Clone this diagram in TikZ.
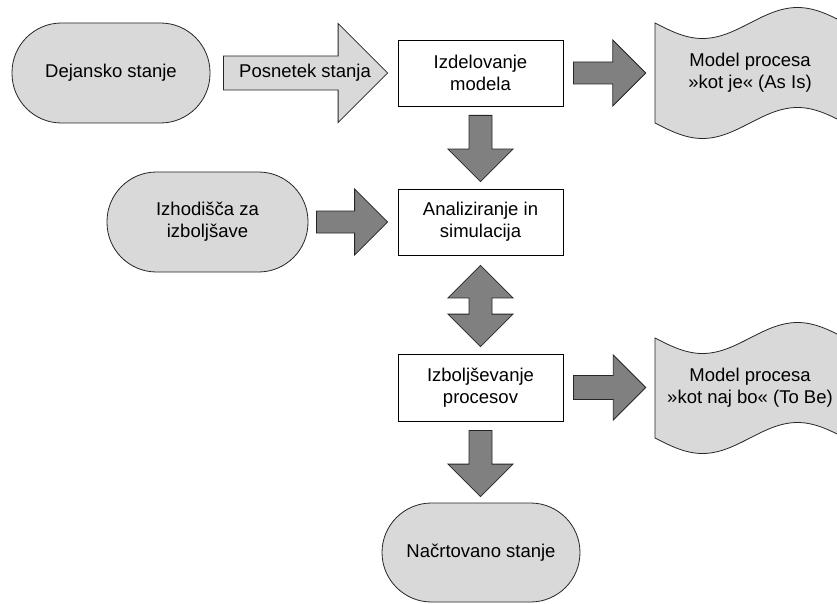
\documentclass[tikz,border=0pt]{standalone}
\usepackage{fontspec}
\setmainfont{Liberation Sans}
\usetikzlibrary{calc,backgrounds}

\definecolor{lightfill}{HTML}{D9D9D9}
\definecolor{darkfill}{HTML}{808080}
\definecolor{outline}{HTML}{262626}

% horizontal block arrow: style, start, tip, shaft half width, head half width (= head length)
\newcommand{\blockright}[5]{%
  \filldraw[#1] let \p1=#2, \p2=#3 in
    (\x1,\y1+#4) -- (\x2-#5,\y1+#4) -- (\x2-#5,\y1+#5) -- (\x2,\y1)
    -- (\x2-#5,\y1-#5) -- (\x2-#5,\y1-#4) -- (\x1,\y1-#4) -- cycle;}
% downward block arrow
\newcommand{\blockdown}[5]{%
  \filldraw[#1] let \p1=#2, \p2=#3 in
    (\x1-#4,\y1) -- (\x1-#4,\y2+#5) -- (\x1-#5,\y2+#5) -- (\x1,\y2)
    -- (\x1+#5,\y2+#5) -- (\x1+#4,\y2+#5) -- (\x1+#4,\y1) -- cycle;}
% two-headed vertical block arrow: top tip, bottom tip
\newcommand{\blockupdown}[5]{%
  \filldraw[#1] let \p1=#2, \p2=#3 in
    (\x1,\y1) -- (\x1+#5,\y1-#5) -- (\x1+#4,\y1-#5) -- (\x1+#4,\y2+#5)
    -- (\x1+#5,\y2+#5) -- (\x1,\y2) -- (\x1-#5,\y2+#5) -- (\x1-#4,\y2+#5)
    -- (\x1-#4,\y1-#5) -- (\x1-#5,\y1-#5) -- cycle;}

\tikzset{
  txt/.style={font=\fontsize{18.5}{22}\selectfont, align=center, text=black},
  terminal/.style={txt, draw=outline, line width=0.8pt, fill=lightfill,
    rounded corners=49.5pt, minimum height=100pt, inner sep=0pt},
  process/.style={txt, draw=black, line width=0.8pt, fill=white,
    minimum width=165pt, minimum height=66pt, inner sep=0pt},
  tapelabel/.style={txt, minimum width=190pt, minimum height=100pt, inner sep=0pt},
  tapeshape/.style={draw=outline, line width=0.8pt, fill=lightfill},
  bigarrow/.style={draw=outline, line width=0.8pt, fill=darkfill},
  lightarrow/.style={draw=outline, line width=0.8pt, fill=lightfill},
}

\begin{document}
\begin{tikzpicture}[x=1pt, y=-1pt]
  \useasboundingbox (0,0) rectangle (837,604);
  \fill[white] (0,0) rectangle (837,604);

  % punched-tape documents
  \filldraw[tapeshape] (655,23) sin (702.5,38.5) cos (750,23) sin (797.5,7.5) cos (845,23)
    -- (845,123) sin (797.5,107.5) cos (750,123) sin (702.5,138.5) cos (655,123) -- cycle;
  \filldraw[tapeshape] (655,338) sin (702.5,353.5) cos (750,338) sin (797.5,322.5) cos (845,338)
    -- (845,438) sin (797.5,422.5) cos (750,438) sin (702.5,453.5) cos (655,438) -- cycle;

  % nodes
  \node[terminal, minimum width=198pt] (dej) at (111,73) {Dejansko stanje};
  \node[process] (izd) at (480.5,73) {Izdelovanje\\modela};
  \node[tapelabel] (asis) at (750,73) {Model procesa\\»kot je« (As Is)};
  \node[terminal, minimum width=201pt] (izh) at (207.5,222) {Izhodišča za\\izboljšave};
  \node[process] (ana) at (480.5,222) {Analiziranje in\\simulacija};
  \node[process, minimum height=67pt] (izb) at (480.5,387.5) {Izboljševanje\\procesov};
  \node[tapelabel] (tobe) at (750,388) {Model procesa\\»kot naj bo« (To Be)};
  \node[terminal, minimum width=198pt, minimum height=99pt] (nac) at (481,552.5) {Načrtovano stanje};

  % connectors
  \blockright{lightarrow}{([xshift=13pt]dej.east)}{([xshift=-10pt]izd.west)}{17pt}{49.5pt}
  \node[txt] (post) at (305,73) {Posnetek stanja};
  \blockright{bigarrow}{([xshift=10pt]izd.east)}{([xshift=-9pt]asis.west)}{11pt}{33pt}
  \blockdown{bigarrow}{([yshift=-9pt]izd.south)}{([yshift=7pt]ana.north)}{11.5pt}{32.5pt}
  \blockright{bigarrow}{([xshift=8pt]izh.east)}{([xshift=-10pt]ana.west)}{11pt}{33pt}
  \blockupdown{bigarrow}{([yshift=-10pt]ana.south)}{([yshift=7pt]izb.north)}{11.5pt}{32.5pt}
  \blockright{bigarrow}{([xshift=10pt]izb.east)}{([xshift=-9pt]tobe.west)}{12pt}{32.5pt}
  \blockdown{bigarrow}{([yshift=-9pt]izb.south)}{([yshift=6pt]nac.north)}{11.5pt}{32.5pt}
\end{tikzpicture}
\end{document}
